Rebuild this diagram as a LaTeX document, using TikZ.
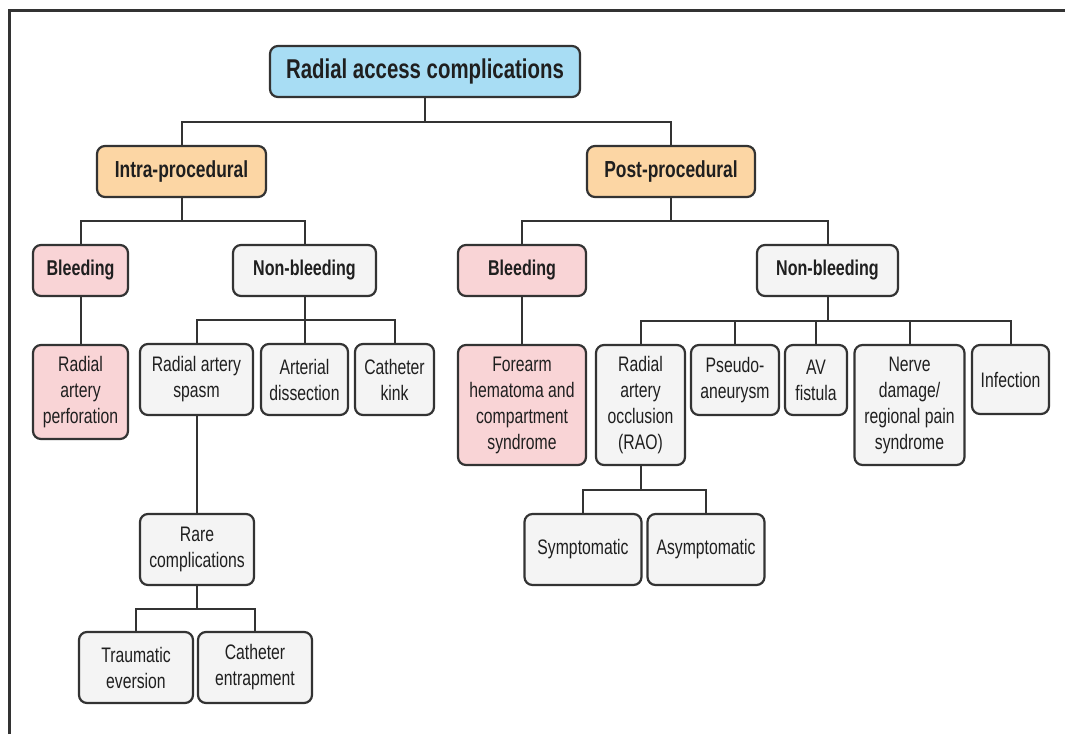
\documentclass[tikz,border=0pt]{standalone}
\usepackage{fontspec}
\setmainfont{Liberation Sans}[FakeStretch=0.75]
\definecolor{rootblue}{HTML}{A8DDF4}
\definecolor{phaseorange}{HTML}{FCD6A4}
\definecolor{bleedpink}{HTML}{F9D4D6}
\definecolor{leafgrey}{HTML}{F4F4F4}
\definecolor{edgegrey}{HTML}{333333}
\tikzstyle{block} = [rectangle, draw=edgegrey, line width=1.1pt, rounded corners=4pt,
    align=center, inner sep=0pt, text=black!88, font=\fontsize{10.5}{13}\selectfont]
\tikzstyle{rootblock} = [block, fill=rootblue, font=\bfseries\fontsize{13.6}{15}\selectfont]
\tikzstyle{phaseblock} = [block, fill=phaseorange, font=\bfseries\fontsize{11.6}{13}\selectfont]
\tikzstyle{redhead} = [block, fill=bleedpink, font=\bfseries\fontsize{10.7}{13}\selectfont]
\tikzstyle{greyhead} = [block, fill=leafgrey, font=\bfseries\fontsize{10.7}{13}\selectfont]
\tikzstyle{redblock} = [block, fill=bleedpink]
\tikzstyle{greyblock} = [block, fill=leafgrey]
\tikzstyle{line} = [draw=edgegrey, line width=1pt]
\tikzset{wh/.style 2 args={minimum width=#1*0.5pt, minimum height=#2*0.5pt}}

\begin{document}
\begin{tikzpicture}[x=0.5pt, y=-0.5pt]
    \useasboundingbox (0,0) rectangle (1065,734);
    % frame
    \draw [edgegrey, line width=1.5pt] (9,734) -- (9,10) -- (1065,10);
    % Place nodes
    \node [rootblock, wh={310}{51}] (Root) at (425,71.5) {Radial access complications};
    \node [phaseblock, wh={169}{51}] (Intra) at (181.5,171.5) {Intra-procedural};
    \node [phaseblock, wh={168}{51}] (Post) at (671,171.5) {Post-procedural};
    % intra-procedural branch
    \node [redhead, wh={95}{51}] (IntraBleed) at (80.5,270.5) {Bleeding};
    \node [greyhead, wh={143}{51}] (IntraNon) at (304.5,270.5) {Non-bleeding};
    \node [redblock, wh={95}{94}] (Perforation) at (80.5,392) {Radial\\artery\\perforation};
    \node [greyblock, wh={113}{71}] (Spasm) at (196.5,379.5) {Radial artery\\spasm};
    \node [greyblock, wh={87}{71}] (Dissection) at (304.5,379.5) {Arterial\\dissection};
    \node [greyblock, wh={79}{71}] (Kink) at (394.5,379.5) {Catheter\\kink};
    \node [greyblock, wh={114}{71}] (Rare) at (197,549.5) {Rare\\complications};
    \node [greyblock, wh={114}{71}] (Eversion) at (136,667.5) {Traumatic\\eversion};
    \node [greyblock, wh={114}{71}] (Entrapment) at (255,667.5) {Catheter\\entrapment};
    % post-procedural branch
    \node [redhead, wh={128}{51}] (PostBleed) at (522,270.5) {Bleeding};
    \node [greyhead, wh={141}{51}] (PostNon) at (827.5,270.5) {Non-bleeding};
    \node [redblock, wh={128}{120}] (Hematoma) at (522,405) {Forearm\\hematoma and\\compartment\\syndrome};
    \node [greyblock, wh={89}{120}] (RAO) at (640.5,405) {Radial\\artery\\occlusion\\(RAO)};
    \node [greyblock, wh={88}{70}] (Pseudo) at (735,380) {Pseudo-\\aneurysm};
    \node [greyblock, wh={62}{70}] (Fistula) at (816,380) {AV\\fistula};
    \node [greyblock, wh={110}{120}] (Nerve) at (909.5,405) {Nerve\\damage/\\regional pain\\syndrome};
    \node [greyblock, wh={77}{69}] (Infection) at (1010.5,379.5) {Infection};
    \node [greyblock, wh={117}{71}] (Sympt) at (583,549.5) {Symptomatic};
    \node [greyblock, wh={117}{71}] (Asympt) at (706,549.5) {Asymptomatic};
    % Draw edges
    \path [line] (Root.south) -- ++(0,24) -| (Intra.north);
    \path [line] (Root.south) -- ++(0,24) -| (Post.north);
    \path [line] (Intra.south) -- ++(0,23) -| (IntraBleed.north);
    \path [line] (Intra.south) -- ++(0,23) -| (IntraNon.north);
    \path [line] (IntraBleed) -- (Perforation);
    \path [line] (IntraNon.south) -- ++(0,23) -| (Spasm.north);
    \path [line] (IntraNon.south) -- (Dissection.north);
    \path [line] (IntraNon.south) -- ++(0,23) -| (Kink.north);
    \path [line] (Spasm.south) -- (Spasm.south |- Rare.north);
    \path [line] (Rare.south) -- ++(0,23) -| (Eversion.north);
    \path [line] (Rare.south) -- ++(0,23) -| (Entrapment.north);
    \path [line] (Post.south) -- ++(0,23) -| (PostBleed.north);
    \path [line] (Post.south) -- ++(0,23) -| (PostNon.north);
    \path [line] (PostBleed) -- (Hematoma);
    \path [line] (PostNon.south) -- ++(0,24) -| (RAO.north);
    \path [line] (PostNon.south) -- ++(0,24) -| (Pseudo.north);
    \path [line] (PostNon.south) -- ++(0,24) -| (Fistula.north);
    \path [line] (PostNon.south) -- ++(0,24) -| (Nerve.north);
    \path [line] (PostNon.south) -- ++(0,24) -| (Infection.north);
    \path [line] (RAO.south) -- ++(0,24) -| (Sympt.north);
    \path [line] (RAO.south) -- ++(0,24) -| (Asympt.north);
\end{tikzpicture}
\end{document}
